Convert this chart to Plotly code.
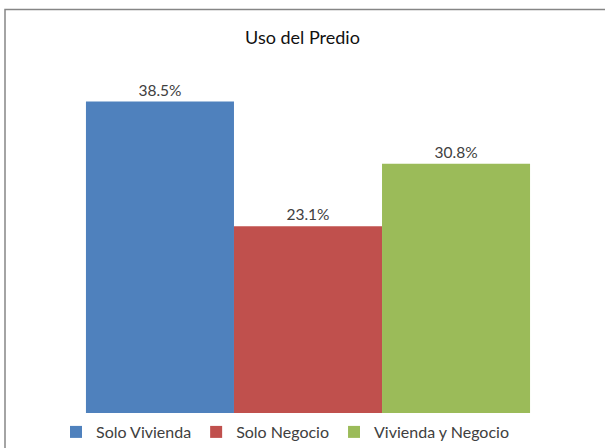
import plotly.graph_objects as go

title = "Uso del Predio"
series_names = ["Solo Vivienda", "Solo Negocio", "Vivienda y Negocio"]
values = [38.5, 23.1, 30.8]
labels = ["38.5%", "23.1%", "30.8%"]
colors = ["#4F81BD", "#C0504D", "#9BBB59"]

W, H = 605, 448
L, R, T, B = 20, 9, 49, 35
pw, ph = W - L - R, H - T - B

fig = go.Figure()
for name, v, lab, c in zip(series_names, values, labels, colors):
    fig.add_trace(go.Bar(
        x=[""], y=[v], name=name, marker=dict(color=c, line=dict(width=0)),
        text=[lab], textposition="outside", cliponaxis=False,
        textfont=dict(family="Lato, Carlito, sans-serif", size=15.5, color="#404040"),
    ))

def px_x(p):
    return (p - L) / pw

def px_y(p):
    return (H - B - p) / ph

fig.add_shape(type="rect", xref="paper", yref="paper",
              x0=px_x(5), x1=px_x(620), y0=px_y(460), y1=px_y(9.5),
              line=dict(color="#868686", width=1.5), fillcolor="rgba(0,0,0,0)", layer="below")

fig.update_layout(
    width=W, height=H,
    margin=dict(l=L, r=R, t=T, b=B, autoexpand=False),
    paper_bgcolor="white", plot_bgcolor="white",
    barmode="group", bargap=0.229, bargroupgap=0,
    title=dict(text=title, x=0.5, xanchor="center", y=1 - 38 / H, yanchor="middle",
               font=dict(family="Lato, Carlito, sans-serif", size=18, color="#111111")),
    xaxis=dict(visible=False, showgrid=False, zeroline=False),
    yaxis=dict(visible=False, range=[0, 45], showgrid=False, zeroline=False),
    legend=dict(orientation="h", xref="container", yref="container",
                x=285 / W, xanchor="center", y=(H - 432) / H, yanchor="middle",
                font=dict(family="Lato, Carlito, sans-serif", size=16, color="#404040"),
                itemwidth=30, traceorder="normal"),
    showlegend=True,
)

fig.write_html("out.html",
               config={"displayModeBar": False},
               post_script="document.body.style.margin='0';document.body.style.overflow='hidden';")
